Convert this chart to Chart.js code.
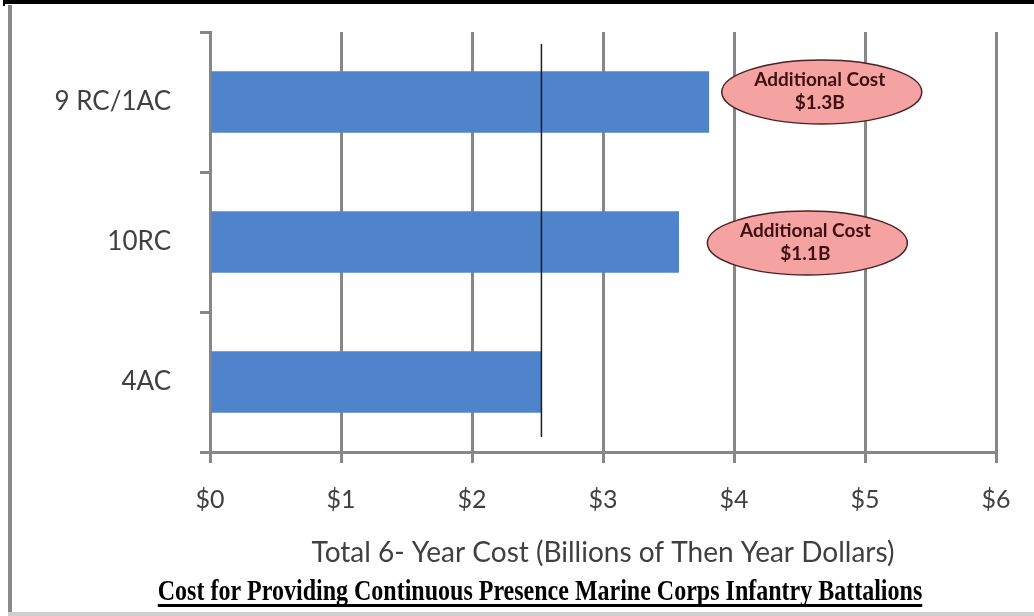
<!DOCTYPE html>
<html><head><meta charset="utf-8">
<script src="https://cdn.jsdelivr.net/npm/chart.js@4.4.1/dist/chart.umd.min.js"></script>
<style>html,body{margin:0;padding:0;background:#fff}#wrap{position:relative;width:1034px;height:616px}</style>
</head><body><div id="wrap"><canvas id="c" width="1034" height="616"></canvas></div>
<script>
const categories = ['9 RC/1AC', '10RC', '4AC'];
const totalCost = [3.81, 3.58, 2.53];
const tickValues = [0, 1, 2, 3, 4, 5, 6];
const tickLabels = ['$0', '$1', '$2', '$3', '$4', '$5', '$6'];
const calloutLines = [['Additional Cost', '$1.3B'], ['Additional Cost', '$1.1B']];
const calloutX = [4.67, 4.56];
const baselineValue = 2.53;
const axisTitle = 'Total 6- Year Cost (Billions of Then Year Dollars)';
const chartTitle = 'Cost for Providing Continuous Presence Marine Corps Infantry Battalions';

const GRID = '#878787';
const calloutOffsetY = [-10, 1];

const decor = {
  id: 'decor',
  afterDatasetsDraw(chart) {
    const ctx = chart.ctx, xs = chart.scales.x, ys = chart.scales.y, ca = chart.chartArea;
    const bx = xs.getPixelForValue(baselineValue);
    ctx.save();
    ctx.strokeStyle = '#1e1e1e';
    ctx.lineWidth = 1.5;
    ctx.beginPath();
    ctx.moveTo(bx, ca.top + 12);
    ctx.lineTo(bx, ca.bottom - 15);
    ctx.stroke();
    calloutLines.forEach((lines, i) => {
      const cx = xs.getPixelForValue(calloutX[i]);
      const cy = ys.getPixelForValue(i) + calloutOffsetY[i];
      ctx.beginPath();
      ctx.ellipse(cx, cy, 100, 32, 0, 0, Math.PI * 2);
      ctx.fillStyle = '#F4A2A2';
      ctx.fill();
      ctx.strokeStyle = '#4a2222';
      ctx.lineWidth = 1.5;
      ctx.stroke();
      ctx.fillStyle = '#3e1010';
      ctx.font = 'bold 19px Lato';
      ctx.textAlign = 'center';
      ctx.textBaseline = 'middle';
      ctx.fillText(lines[0], cx - 2, cy - 12);
      ctx.fillText(lines[1], cx - 2, cy + 11);
    });
    ctx.restore();
  },
  afterDraw(chart) {
    const ctx = chart.ctx, W = chart.width, H = chart.height;
    ctx.save();
    ctx.fillStyle = '#000';
    ctx.fillRect(3, 0, W - 3, 4);
    ctx.fillRect(3, 0, 2, 6);
    ctx.fillStyle = '#8a8a8a';
    ctx.fillRect(8, 5, 4, H - 5);
    ctx.fillStyle = '#cfcfcf';
    ctx.fillRect(8, H - 4, W - 8, 4);
    ctx.fillStyle = '#000';
    ctx.font = 'bold 24px "Liberation Serif"';
    ctx.textAlign = 'center';
    ctx.textBaseline = 'alphabetic';
    const tx = 540, ty = 600;
    const w = ctx.measureText(chartTitle).width;
    ctx.save();
    ctx.translate(tx, ty);
    ctx.scale(1, 1.25);
    ctx.fillText(chartTitle, 0, 0);
    ctx.restore();
    ctx.fillRect(tx - w / 2, ty + 4, w, 3);
    ctx.restore();
  }
};

new Chart(document.getElementById('c'), {
  type: 'bar',
  data: {
    labels: categories,
    datasets: [{
      data: totalCost,
      backgroundColor: '#4F84CD',
      barPercentage: 0.44,
      categoryPercentage: 1
    }]
  },
  options: {
    indexAxis: 'y',
    responsive: false,
    animation: false,
    devicePixelRatio: 1,
    layout: { padding: { left: 0, right: 38, top: 32, bottom: 39 } },
    plugins: { legend: { display: false }, tooltip: { enabled: false } },
    scales: {
      x: {
        type: 'linear',
        position: 'bottom',
        min: tickValues[0],
        max: tickValues[tickValues.length - 1],
        afterBuildTicks: s => { s.ticks = tickValues.map(v => ({ value: v })); },
        afterFit: s => { s.height = 125; },
        ticks: {
          callback: (v, i) => tickLabels[i],
          color: '#404040',
          font: { family: 'Lato', size: 25 },
          padding: 22,
          maxRotation: 0
        },
        grid: { color: GRID, lineWidth: 3, tickLength: 11, drawOnChartArea: true, drawTicks: true },
        border: { display: true, color: GRID, width: 3 },
        title: {
          display: true,
          text: axisTitle,
          color: '#404040',
          font: { family: 'Lato', size: 28 },
          padding: { top: 0, bottom: 7 }
        }
      },
      y: {
        type: 'category',
        position: 'left',
        afterFit: s => { s.width = 210; s.paddingTop = 0; s.paddingBottom = 0; },
        ticks: { color: '#404040', font: { family: 'Lato', size: 26 }, padding: 29 },
        grid: { color: GRID, lineWidth: 3, tickLength: 10, drawOnChartArea: false, drawTicks: true, offset: true },
        border: { display: true, color: GRID, width: 3 }
      }
    }
  },
  plugins: [decor]
});
</script>
</body></html>
